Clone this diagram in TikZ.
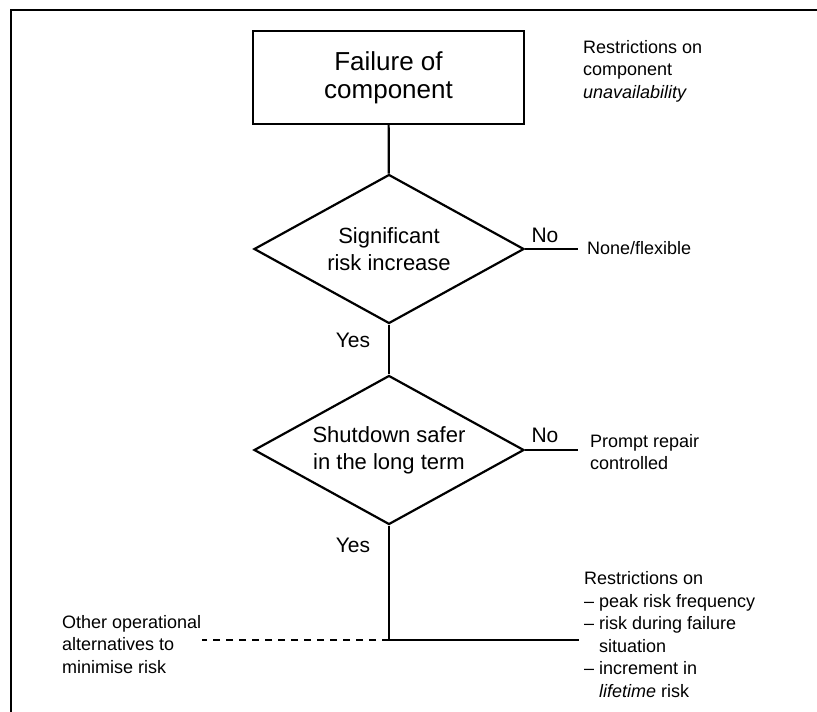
\documentclass[tikz,border=0pt]{standalone}
\usepackage{fontspec}
\setmainfont{Liberation Sans}
\usetikzlibrary{shapes.geometric}

\begin{document}
\begin{tikzpicture}[x=1pt,y=-1pt,line width=2.2pt]
    \tikzstyle{event} = [shape=rectangle, draw=black, align=center, inner sep=0, minimum width=271pt, minimum height=93pt, font=\fontsize{26}{28}\selectfont]
    \tikzstyle{decision} = [shape=diamond, aspect=1.8, draw=black, align=center, inner sep=0, minimum width=270pt, minimum height=149pt, font=\fontsize{22}{27}\selectfont]
    \tikzstyle{answer} = [inner sep=0, font=\fontsize{21}{25}\selectfont]
    \tikzstyle{remark} = [anchor=west, align=left, inner sep=0, font=\fontsize{18}{22.5}\selectfont]
    \useasboundingbox (0,0) rectangle (817,712);
    \draw[line width=2pt] (11,712) -- (11,10) -- (817,10);

    \node[event] (fail) at (388.5,77.5) {Failure of\\component};
    \node[decision] (sig) at (389,249) {Significant\\risk increase};
    \node[decision] (shut) at (389,450) {Shutdown safer\\in the long term};

    \coordinate (noA) at (578,249);
    \coordinate (noB) at (578,450);
    \coordinate (join) at (389,640);
    \coordinate (restr) at (579,640);
    \coordinate (alt) at (202,640);

    \draw (fail) -- (sig);
    \draw (sig) -- (shut);
    \draw (sig.east) -- (noA);
    \draw (shut.east) -- (noB);
    \draw (shut.south) -- (join) -- (restr);
    \draw[dashed, line width=2pt, dash pattern=on 7pt off 6pt] (join) -- (alt);

    \node[answer] (noa) at (545,235) {No};
    \node[answer] (nob) at (545,435) {No};
    \node[answer] (yesa) at (353,340) {Yes};
    \node[answer] (yesb) at (353,545) {Yes};

    \node[remark] (unav) at (582,71) {Restrictions on\\component\\\textit{unavailability}};
    \node[remark] (flex) at (586,248) {None/flexible};
    \node[remark] (prompt) at (589,452) {Prompt repair\\controlled};
    \node[remark] (peak) at (583,634.5) {Restrictions on\\-- peak risk frequency\\-- risk during failure\\\phantom{-- }situation\\-- increment in\\\phantom{-- }\textit{lifetime} risk};
    \node[remark] (other) at (61,644.5) {Other operational\\alternatives to\\minimise risk};
\end{tikzpicture}
\end{document}
